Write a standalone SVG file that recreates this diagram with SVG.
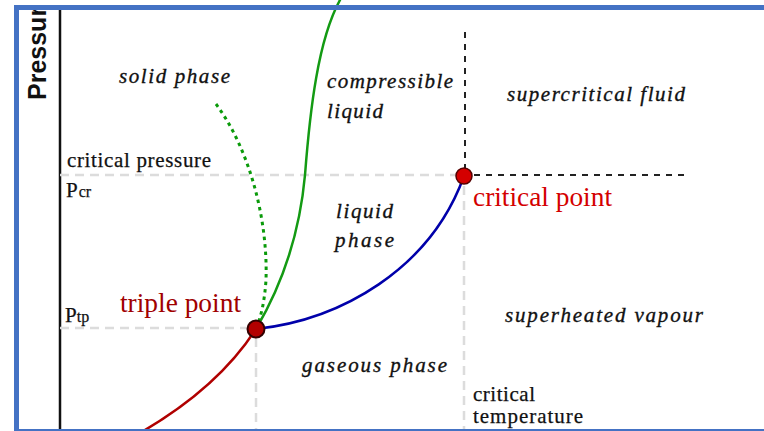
<svg xmlns="http://www.w3.org/2000/svg" width="764" height="431" viewBox="0 0 764 431">
<style>
.it{font-family:"Liberation Serif",serif;font-style:italic;font-size:21px;fill:#111;stroke:#111;stroke-width:0.35}
.rm{font-family:"Liberation Serif",serif;font-size:21px;fill:#111;stroke:#111;stroke-width:0.25}
.sub{font-family:"Liberation Serif",serif;font-size:16px;fill:#111}
.gd{stroke:#dcdcdc;stroke-width:2.5;stroke-dasharray:9,6;fill:none}
.bd{stroke:#222;stroke-width:2;stroke-dasharray:6,6;fill:none}
.crv{fill:none;stroke-width:2.5;stroke-linecap:round}
</style>
<defs>
<clipPath id="clipL"><rect x="0" y="10" width="60" height="421"/></clipPath>
</defs>
<rect x="0" y="0" width="764" height="431" fill="#fff"/>
<g id="axis">
<line x1="60" y1="10" x2="60" y2="431" stroke="#111" stroke-width="2.5"/>
<g clip-path="url(#clipL)">
<text transform="translate(46,100) rotate(-90)" font-family="Liberation Sans,Arial,sans-serif" font-weight="bold" font-size="25" fill="#111">Pressure</text>
</g>
</g>
<g id="guides">
<line class="gd" x1="60" y1="175" x2="456" y2="175"/>
<line class="gd" x1="60" y1="328" x2="248" y2="328"/>
<line class="gd" x1="256" y1="338" x2="256" y2="431"/>
<line class="gd" x1="464" y1="186" x2="464" y2="431"/>
<line class="bd" x1="465" y1="32" x2="465" y2="168"/>
<line class="bd" x1="474" y1="175" x2="690" y2="175"/>
</g>
<g id="connectors">
<path class="crv" stroke="#b00000" d="M140 433 Q218 388 256 329"/>
<path class="crv" stroke="#0000aa" d="M256 329 C340 320 430 270 464 176"/>
<path class="crv" stroke="#139a13" d="M256 329 C285 280 300 230 305 175 C310 110 318 40 340 0"/>
<path fill="none" stroke="#0a9a0a" stroke-width="3" stroke-dasharray="3.5,4" d="M216 104 C250 150 268 220 266 280 Q264 310 256 329"/>
</g>
<g id="triple-point">
<circle cx="256" cy="329" r="8.5" fill="#b30000" stroke="#330000" stroke-width="2"/>
<text x="120" y="312" font-family="Liberation Serif,serif" font-size="27" fill="#a00000" textLength="121" lengthAdjust="spacingAndGlyphs">triple point</text>
</g>
<g id="critical-point">
<circle cx="464" cy="176" r="8" fill="#d40000" stroke="#550000" stroke-width="1.5"/>
<text x="473" y="206" font-family="Liberation Serif,serif" font-size="27" fill="#d40000" textLength="139" lengthAdjust="spacingAndGlyphs">critical point</text>
</g>
<g id="labels">
<text class="it" x="119" y="83" textLength="111" lengthAdjust="spacing">solid phase</text>
<text class="it" x="327" y="88" textLength="126" lengthAdjust="spacing">compressible</text>
<text class="it" x="327" y="118" textLength="56" lengthAdjust="spacing">liquid</text>
<text class="it" x="507" y="101" textLength="178" lengthAdjust="spacing">supercritical fluid</text>
<text class="it" x="336" y="218" textLength="57" lengthAdjust="spacing">liquid</text>
<text class="it" x="335" y="247" textLength="59" lengthAdjust="spacing">phase</text>
<text class="it" x="505" y="322" textLength="198" lengthAdjust="spacing">superheated vapour</text>
<text class="it" x="302" y="372" textLength="145" lengthAdjust="spacing">gaseous phase</text>
<text class="rm" x="67" y="167" textLength="144" lengthAdjust="spacing">critical pressure</text>
<text class="rm" x="66" y="197">P<tspan class="sub" dx="1">cr</tspan></text>
<text class="rm" x="65" y="322">P<tspan class="sub" dx="0">tp</tspan></text>
<text class="rm" x="473" y="401" textLength="62" lengthAdjust="spacing">critical</text>
<text class="rm" x="473" y="423" textLength="110" lengthAdjust="spacing">temperature</text>
</g>
<rect x="16.5" y="7.5" width="800" height="424" fill="none" stroke="#4472c4" stroke-width="5"/>
</svg>
